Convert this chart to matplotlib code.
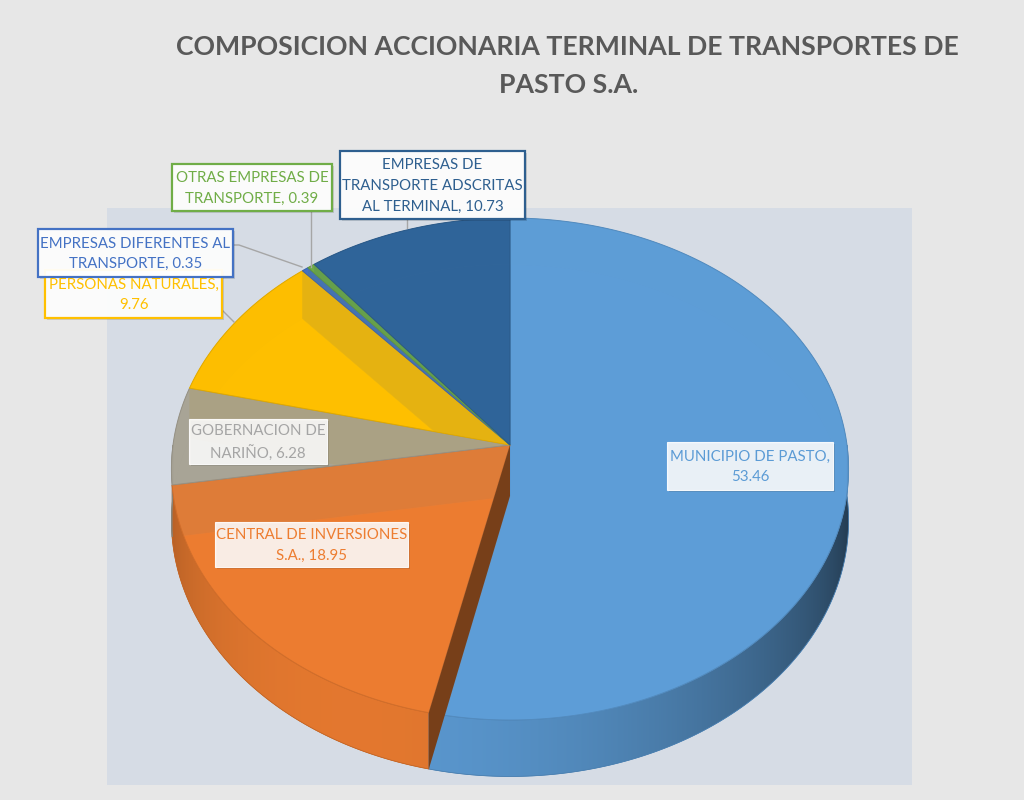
import numpy as np
import matplotlib
matplotlib.use("Agg")
import matplotlib.pyplot as plt
from matplotlib.patches import Polygon, Rectangle
import matplotlib.colors as mcolors

# ---------------- data ----------------
title_lines = ["COMPOSICION ACCIONARIA TERMINAL DE TRANSPORTES DE", "PASTO S.A."]
categories = [
    "MUNICIPIO DE PASTO",
    "CENTRAL DE INVERSIONES S.A.",
    "GOBERNACION DE NARIÑO",
    "PERSONAS NATURALES",
    "EMPRESAS DIFERENTES AL TRANSPORTE",
    "OTRAS EMPRESAS DE TRANSPORTE",
    "EMPRESAS DE TRANSPORTE ADSCRITAS AL TERMINAL",
]
values = [53.46, 18.95, 6.28, 9.76, 0.35, 0.39, 10.73]
label_lines = [
    "MUNICIPIO DE PASTO,\n53.46",
    "CENTRAL DE INVERSIONES\nS.A., 18.95",
    "GOBERNACION DE\nNARIÑO, 6.28",
    "PERSONAS NATURALES,\n9.76",
    "EMPRESAS DIFERENTES AL\nTRANSPORTE, 0.35",
    "OTRAS EMPRESAS DE\nTRANSPORTE, 0.39",
    "EMPRESAS DE\nTRANSPORTE ADSCRITAS\nAL TERMINAL, 10.73",
]
colors = ["#5E9ED8", "#ED7D31", "#A9A597", "#FFC000", "#4472C4", "#70AD47", "#30659A"]
text_colors = ["#5B9BD5", "#ED7D31", "#A5A5A5", "#FFC000", "#4472C4", "#70AD47", "#2E5F8F"]

# ---------------- layout (pixels) ----------------
W, H = 1024, 800
cx, cy = 510, 445          # pie centre on top face
A, B, p = 337, 248.7, 0.0957   # perspective ellipse params
D = 51                     # pie thickness

boxes = [
    (667, 442, 833, 490, False),
    (215, 522, 408, 567, False),
    (189, 419, 327, 464, False),
    (45, 270, 222, 318, True),
    (38, 229, 233, 277, True),
    (172, 164, 332, 211, True),
    (340, 151, 525, 219, True),
]
leaders = [
    None, None, None,
    [(222, 310), (234, 322)],
    [(233, 245), (239, 245), (302, 267)],
    [(311, 211), (311, 267)],
    [(407, 219), (407, 228)],
]

plt.rcParams["font.family"] = ["Lato", "DejaVu Sans"]

fig = plt.figure(figsize=(W / 100, H / 100), dpi=100)
fig.patch.set_facecolor("#E7E7E7")
ax = fig.add_axes([0, 0, 1, 1])
ax.set_xlim(0, W)
ax.set_ylim(H, 0)
ax.axis("off")

ax.add_patch(Rectangle((107, 208), 805, 577, facecolor="#D6DCE5", edgecolor="none", zorder=0))


def P(tdeg, r=1.0, drop=0.0):
    t = np.radians(tdeg)
    u, v = r * np.cos(t), r * np.sin(t)
    w = 1 + p * v
    return (cx + A * u / w, cy - B * v / w + drop / w)


def shade(c, f):
    rgb = np.array(mcolors.to_rgb(c))
    return tuple(np.clip(rgb * f, 0, 1))


def light(tdeg):
    return 0.54 + 0.42 * np.cos(np.radians(tdeg + 118))


def arc(a, b, step=0.5):
    n = max(3, int(abs(b - a) / step) + 2)
    return np.linspace(a, b, n)


total = sum(values)
cum = np.concatenate([[0], np.cumsum(values)]) / total * 360.0
t_start = 90 - cum[:-1]
t_end = 90 - cum[1:]

# bottom faces
for i in range(len(values)):
    pts = [(cx, cy + D)] + [P(t, drop=D) for t in arc(t_start[i], t_end[i])]
    ax.add_patch(Polygon(pts, closed=True, facecolor=shade(colors[i], 0.97),
                         edgecolor=shade(colors[i], 0.9), linewidth=0.6, zorder=1))


def split(a, b):
    """split clockwise range a->b into back (sin>0) and front parts"""
    back, front = [], []
    lo, hi = min(a, b), max(a, b)
    edges = sorted(set([lo, hi] + [k * 180.0 for k in range(-3, 3) if lo < k * 180.0 < hi]))
    for s, e in zip(edges[:-1], edges[1:]):
        m = np.sin(np.radians(0.5 * (s + e)))
        (back if m > 0 else front).append((e, s))
    return back, front


# back outer walls (seen faintly through the tops)
for i in range(len(values)):
    back, _ = split(t_start[i], t_end[i])
    for a, b in back:
        ts = arc(a, b)
        pts = [P(t) for t in ts] + [P(t, drop=D) for t in ts[::-1]]
        ax.add_patch(Polygon(pts, closed=True, facecolor=shade(colors[i], 0.95),
                             edgecolor="none", zorder=1.5))

# radial cut faces, farthest first
rad = []
for i in range(len(values)):
    for t in (t_start[i], t_end[i]):
        quad = [(cx, cy), P(t), P(t, drop=D), (cx, cy + D)]
        rad.append((np.sin(np.radians(t)), quad, shade(colors[i], 0.72)))
rad.sort(key=lambda r: -r[0])
for k, (dep, quad, col) in enumerate(rad):
    ax.add_patch(Polygon(quad, closed=True, facecolor=col, edgecolor="none",
                         zorder=2 + k * 1e-3))

# front outer walls with horizontal lighting gradient
xs_img = np.linspace(150, 870, 720)
for i in range(len(values)):
    _, front = split(t_start[i], t_end[i])
    for a, b in front:
        ts = arc(a, b)
        pts = [P(t) for t in ts] + [P(t, drop=D) for t in ts[::-1]]
        poly = Polygon(pts, closed=True, facecolor="none", edgecolor="none")
        ax.add_patch(poly)
        tt = -np.degrees(np.arccos(np.clip((xs_img - cx) / (A + 3), -1, 1)))
        f = light(tt)
        base = np.array(mcolors.to_rgb(colors[i]))
        row = np.clip(base[None, :] * f[:, None], 0, 1)
        img = np.repeat(row[None, :, :], 4, axis=0)
        im = ax.imshow(img, extent=(150, 870, 790, 430), interpolation="bilinear",
                       zorder=3, aspect="auto")
        im.set_clip_path(poly)
        ax.add_patch(Polygon(pts, closed=True, facecolor="none",
                             edgecolor=shade(colors[i], 0.8), linewidth=0.5, zorder=3.1))

# top faces (slightly translucent)
for i in range(len(values)):
    pts = [(cx, cy)] + [P(t) for t in arc(t_start[i], t_end[i])]
    ax.add_patch(Polygon(pts, closed=True, facecolor=mcolors.to_rgba(colors[i], 0.88),
                         edgecolor=shade(colors[i], 0.88), linewidth=0.7, zorder=5))

# visible cut face at the front boundary
front_i = int(np.argmin(np.abs(t_end - (-90))))
tf = t_end[front_i]
quad = [(cx, cy), P(tf), P(tf, drop=D), (cx, cy + D)]
ax.add_patch(Polygon(quad, closed=True, facecolor=shade(colors[front_i + 1], 0.5),
                     edgecolor="none", zorder=6))

# leader lines
for ld in leaders:
    if ld is None:
        continue
    lx, ly = zip(*ld)
    ax.plot(lx, ly, color="#A6A6A6", lw=1.0, zorder=7)

# labels
for i, (x0, y0, x1, y1, bordered) in enumerate(boxes):
    ax.add_patch(Rectangle((x0 + 2, y0 + 2), x1 - x0, y1 - y0, facecolor=(0, 0, 0, 0.12),
                           edgecolor="none", zorder=8))
    ax.add_patch(Rectangle((x0, y0), x1 - x0, y1 - y0,
                           facecolor=(1, 1, 1, 0.88 if not bordered else 0.94),
                           edgecolor=text_colors[i] if bordered else (1, 1, 1, 0.9),
                           linewidth=1.6 if bordered else 0.8, zorder=9))
    ax.text((x0 + x1) / 2, (y0 + y1) / 2 + 1, label_lines[i], ha="center", va="center",
            multialignment="center", fontsize=10.8, color=text_colors[i], linespacing=1.6,
            zorder=10)

# title
ax.text(567, 47, title_lines[0], ha="center", va="center", fontsize=19.2,
        fontweight="bold", color="#595959", zorder=10)
ax.text(569, 85, title_lines[1], ha="center", va="center", fontsize=19.2,
        fontweight="bold", color="#595959", zorder=10)

fig.savefig("out.png", dpi=100, facecolor=fig.get_facecolor())
